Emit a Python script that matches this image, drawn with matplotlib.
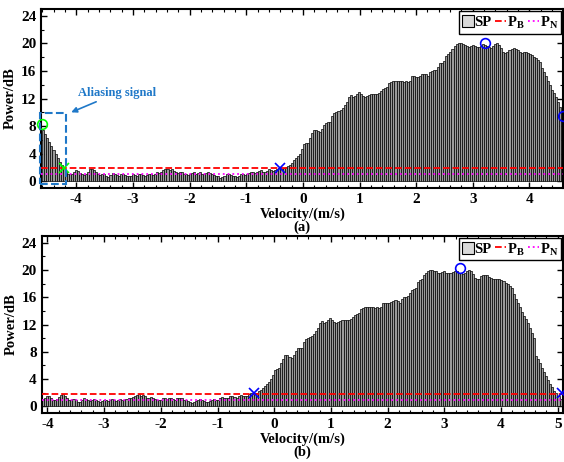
import numpy as np
import matplotlib
matplotlib.use("Agg")
import matplotlib.pyplot as plt
from matplotlib.ticker import MultipleLocator
from matplotlib.patches import Patch

plt.rcParams['font.family'] = ['Liberation Serif', 'DejaVu Serif']
plt.rcParams['font.weight'] = 'bold'
plt.rcParams['axes.unicode_minus'] = False
plt.rcParams['mathtext.fontset'] = 'custom'
plt.rcParams['mathtext.rm'] = 'Liberation Serif:bold'
plt.rcParams['mathtext.bf'] = 'Liberation Serif:bold'

# spectrum (dB) over 256 velocity bins
v_nyq = 4.6
sp = [
    7.4, 6.9, 6.3, 5.7, 5.1, 4.5, 3.9, 3.3, 2.8, 2.3,
    1.9, 1.5, 1.1, 1.0, 1.1, 1.3, 1.6, 1.5, 1.2, 1.0,
    0.9, 1.1, 1.4, 1.7, 1.8, 1.6, 1.3, 1.0, 0.9, 1.1,
    1.0, 0.7, 0.6, 0.9, 1.2, 1.1, 0.9, 0.8, 1.0, 1.1,
    0.9, 0.8, 0.7, 0.8, 1.0, 0.9, 0.8, 1.0, 1.1, 0.9,
    0.8, 0.9, 1.1, 1.0, 0.9, 1.1, 1.3, 1.2, 1.4, 1.6,
    1.7, 1.8, 1.6, 1.7, 1.5, 1.3, 1.2, 1.4, 1.3, 1.1,
    1.0, 0.9, 1.0, 1.2, 1.3, 1.1, 1.2, 1.3, 1.1, 1.0,
    1.2, 1.3, 1.2, 1.0, 0.9, 0.8, 0.7, 0.5, 0.6, 0.8,
    1.0, 1.1, 0.9, 0.8, 0.7, 0.6, 0.8, 1.0, 1.1, 0.9,
    1.0, 1.2, 1.4, 1.3, 1.2, 1.3, 1.5, 1.6, 1.4, 1.3,
    1.5, 1.7, 1.6, 1.5, 1.6, 1.8, 1.9, 1.8, 1.9, 2.0,
    2.2, 2.4, 2.7, 3.0, 3.3, 3.6, 4.0, 4.6, 5.4, 5.5,
    5.6, 6.3, 7.0, 7.5, 7.5, 7.3, 7.1, 7.6, 8.1, 8.5,
    8.6, 8.6, 9.4, 9.9, 10.0, 10.2, 10.3, 10.6, 11.0, 11.5,
    12.2, 12.5, 12.2, 12.4, 12.6, 12.9, 12.6, 12.3, 12.2, 12.3,
    12.5, 12.6, 12.7, 12.7, 12.7, 12.8, 13.1, 13.4, 13.6, 13.7,
    14.2, 14.4, 14.5, 14.5, 14.5, 14.5, 14.5, 14.4, 14.5, 14.4,
    14.6, 15.2, 15.2, 15.1, 15.1, 15.3, 15.5, 15.6, 15.5, 15.2,
    15.8, 16.0, 16.1, 16.2, 16.6, 17.1, 17.2, 17.4, 18.2, 18.5,
    18.7, 19.2, 19.6, 19.9, 20.0, 20.0, 19.9, 19.8, 19.6, 19.5,
    19.7, 19.8, 19.6, 19.5, 19.5, 19.7, 19.9, 19.8, 19.6, 19.5,
    19.4, 19.6, 19.9, 20.0, 19.8, 19.4, 18.8, 18.6, 18.7, 19.1,
    19.2, 19.3, 19.2, 19.0, 18.8, 18.6, 18.7, 18.7, 18.6, 18.5,
    18.3, 18.1, 17.9, 17.6, 17.3, 16.5, 15.8, 15.2, 14.5, 13.9,
    13.3, 12.8, 12.2, 11.5, 10.8, 10.0,
]
p_b = 1.84
p_n = 1.0

# markers: (velocity, power)
green_o_a = (-4.6, 8.36)
green_x_a = (-4.21, 1.9)
blue_x_a = (-0.41, 1.9)
blue_o_a = (3.21, 20.1)
blue_o_edge_a = (4.6, 9.4)
blue_x_b = (-0.35, 1.96)
blue_o_b = (3.27, 20.2)
blue_x_edge_b = (5.08, 1.9)

xlim_a = (-4.62, 4.6)
xlim_b = (-4.1, 5.1)

n = len(sp)
dv = 2 * v_nyq / n
vel = -v_nyq + dv * (np.arange(n) + 0.5)
sp = np.array(sp)
# unwrap the aliased bins for panel (b)
vel_b = np.where(vel < xlim_b[0], vel + 2 * v_nyq, vel)

fig = plt.figure(figsize=(5.64, 4.62), dpi=100)
ax1 = fig.add_axes([0.073, 0.593, 0.926, 0.3875])
ax2 = fig.add_axes([0.074, 0.1054, 0.925, 0.3844])

blue = '#1f78c8'


def draw_panel(ax, v, xlim, tag):
    ax.bar(v, sp, width=dv, facecolor='#9a9a9a', edgecolor='black',
           linewidth=0.5, zorder=2)
    lb, = ax.plot(xlim, [p_b, p_b], '--', color='red', lw=1.3, zorder=3)
    ln, = ax.plot(xlim, [p_n, p_n], ':', color='magenta', lw=1.3, zorder=3)
    ax.set_xlim(xlim)
    ax.set_ylim(-1, 25)
    ax.xaxis.set_major_locator(MultipleLocator(1))
    ax.xaxis.set_minor_locator(MultipleLocator(0.2))
    ax.yaxis.set_major_locator(MultipleLocator(4))
    ax.yaxis.set_minor_locator(MultipleLocator(2))
    ax.tick_params(which='both', direction='in', top=True, right=True, labelsize=11)
    ax.tick_params(which='major', length=4, width=1)
    ax.tick_params(which='minor', length=2, width=0.8)
    for s in ax.spines.values():
        s.set_linewidth(1.5)
    for lab in ax.get_xticklabels() + ax.get_yticklabels():
        lab.set_fontweight('bold')
    ax.set_ylabel('Power/dB', fontsize=10.5, fontweight='bold', labelpad=3)
    ax.set_xlabel('Velocity/(m/s)\n' + tag, fontsize=10.5, fontweight='bold',
                  labelpad=1, linespacing=0.95)
    sp_patch = Patch(facecolor='#d9d9d9', edgecolor='black', linewidth=0.8)
    leg = ax.legend([sp_patch, lb, ln], ['SP', r'P$_{\mathbf{B}}$', r'P$_{\mathbf{N}}$'],
                    loc='upper right', ncol=3, fontsize=10.5, handlelength=0.8,
                    handleheight=0.9, handletextpad=0.05, columnspacing=0.2,
                    borderpad=0.2, borderaxespad=0.15, fancybox=False,
                    framealpha=1, edgecolor='black')
    leg.get_frame().set_linewidth(1.0)


draw_panel(ax1, vel, xlim_a, '(a)')
draw_panel(ax2, vel_b, xlim_b, '(b)')

mk = dict(markersize=7, markeredgewidth=1.2, linestyle='none', zorder=5, clip_on=False)
ax1.plot(*green_o_a, 'o', mfc='none', mec='lime', **mk)
ax1.plot(*green_x_a, 'x', color='lime', **mk)
ax1.plot(*blue_x_a, 'x', color='blue', **mk)
ax1.plot(*blue_o_a, 'o', mfc='none', mec='blue', **mk)
ax1.plot(*blue_o_edge_a, 'o', mfc='none', mec='blue', markersize=7, markeredgewidth=1.2,
         linestyle='none', zorder=5, clip_on=True)
ax2.plot(*blue_x_b, 'x', color='blue', **mk)
ax2.plot(*blue_o_b, 'o', mfc='none', mec='blue', **mk)
ax2.plot(*blue_x_edge_b, 'x', color='blue', markersize=7, markeredgewidth=1.2,
         linestyle='none', zorder=5, clip_on=True)

# aliasing box in panel (a)
ax1.add_patch(plt.Rectangle((-4.64, -0.43), 0.46, 10.33, fill=False, ls='--',
                            lw=1.5, edgecolor=blue, clip_on=False, zorder=6))
ax1.annotate('Aliasing signal', xy=(-4.09, 10.0), xytext=(-3.97, 12.8),
             fontsize=9, fontweight='bold', color=blue, va='center',
             arrowprops=dict(arrowstyle='-|>', color=blue, lw=1.2,
                             mutation_scale=8, shrinkA=0, shrinkB=0))

fig.savefig('out.png', dpi=100)
